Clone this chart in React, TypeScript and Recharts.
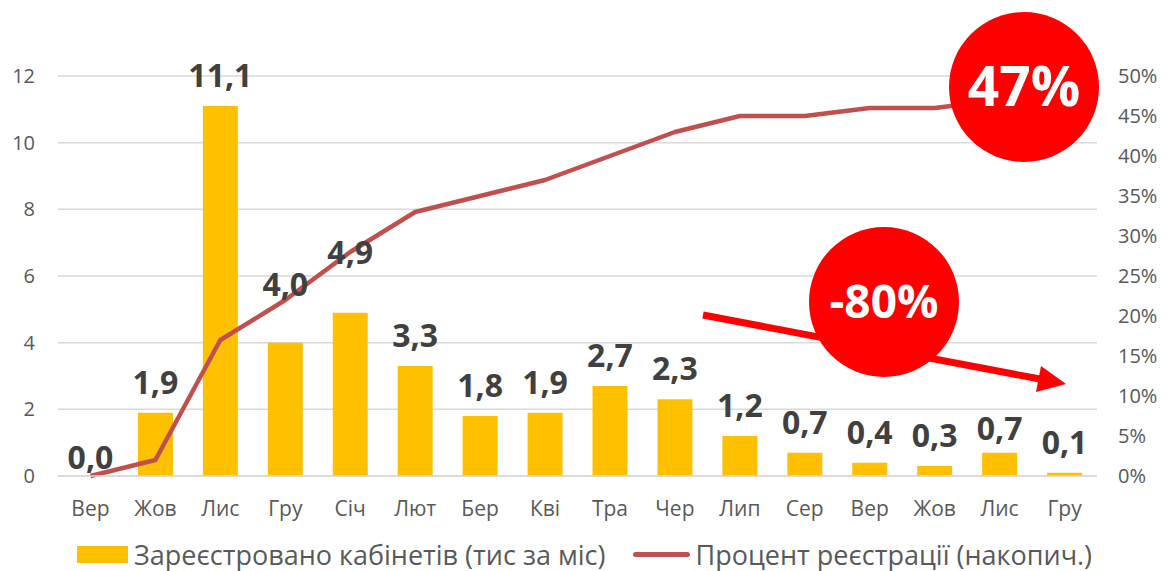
import React from 'react';
import { ComposedChart, Bar, Line, XAxis, YAxis, CartesianGrid, Legend, LabelList } from 'recharts';

const months = ['Вер', 'Жов', 'Лис', 'Гру', 'Січ', 'Лют', 'Бер', 'Кві', 'Тра', 'Чер', 'Лип', 'Сер', 'Вер', 'Жов', 'Лис', 'Гру'];
const cabinets = [0.0, 1.9, 11.1, 4.0, 4.9, 3.3, 1.8, 1.9, 2.7, 2.3, 1.2, 0.7, 0.4, 0.3, 0.7, 0.1];
const cumulativePct = [0, 2, 17, 22, 28, 33, 35, 37, 40, 43, 45, 45, 46, 46, 47, 47];
const leftTicks = [0, 2, 4, 6, 8, 10, 12];
const rightTicks = [0, 5, 10, 15, 20, 25, 30, 35, 40, 45, 50];

const FONT = '"Open Sans", "Noto Sans", sans-serif';
const BAR_NAME = 'Зареєстровано кабінетів (тис за міс)';
const LINE_NAME = 'Процент реєстрації (накопич.)';

// labels that were moved by hand in the original (keeps them clear of the line)
const labelLift: Record<number, number> = { 0: -12, 3: 28, 4: 30, 14: -6 };

const chartData = months.map((m, i) => ({
    month: m,
    cabinets: cabinets[i],
    pct: cumulativePct[i],
}));

const renderValueLabel = (props: any) => {
    const { x, y, value, index } = props;
    const lift = labelLift[index] || 0;
    return (
        <text
            x={x}
            y={y - 19 - lift}
            textAnchor="middle"
            fill="#404040"
            fontSize={32}
            fontWeight={700}
            fontFamily={FONT}
        >
            {Number(value).toFixed(1).replace('.', ',')}
        </text>
    );
};

const renderLegend = () => (
    <div style={{ display: 'flex', alignItems: 'center', fontFamily: FONT, fontSize: 27, color: '#595959', whiteSpace: 'nowrap' }}>
        <span style={{ display: 'inline-block', width: 51, height: 17, background: '#FFC000', marginRight: 6 }} />
        <span>{BAR_NAME}</span>
        <span style={{ display: 'inline-block', width: 57, height: 5, borderRadius: 3, background: '#C0504D', marginLeft: 28, marginRight: 5 }} />
        <span>{LINE_NAME}</span>
    </div>
);

const App: React.FC = () => {
    return (
        <div style={{ position: 'absolute', left: 0, top: 0, width: 1167, height: 571, background: '#fff' }}>
            <ComposedChart
                width={1167}
                height={571}
                data={chartData}
                margin={{ top: 76, right: 0, left: 0, bottom: 0 }}
                barSize={35}
            >
                <CartesianGrid yAxisId="left" vertical={false} stroke="#D9D9D9" strokeWidth={1.5} />
                <XAxis
                    dataKey="month"
                    height={95}
                    axisLine={{ stroke: '#D9D9D9', strokeWidth: 1.5 }}
                    tickLine={false}
                    tickMargin={19}
                    interval={0}
                    tick={{ fill: '#595959', fontSize: 21, fontFamily: FONT }}
                />
                <YAxis
                    yAxisId="left"
                    width={58}
                    domain={[0, 12]}
                    ticks={leftTicks}
                    axisLine={false}
                    tickLine={false}
                    tickMargin={17}
                    tick={{ fill: '#595959', fontSize: 20, fontFamily: FONT }}
                />
                <YAxis
                    yAxisId="right"
                    orientation="right"
                    width={70}
                    domain={[0, 50]}
                    ticks={rightTicks}
                    tickFormatter={(v: number) => `${v}%`}
                    axisLine={false}
                    tickLine={false}
                    tickMargin={15}
                    tick={{ fill: '#595959', fontSize: 20, fontFamily: FONT }}
                />
                <Bar yAxisId="left" dataKey="cabinets" name={BAR_NAME} fill="#FFC000" isAnimationActive={false} />
                <Line
                    yAxisId="right"
                    type="linear"
                    dataKey="pct"
                    name={LINE_NAME}
                    stroke="#C0504D"
                    strokeWidth={4.5}
                    strokeLinejoin="round"
                    dot={false}
                    activeDot={false}
                    isAnimationActive={false}
                />
                {/* invisible carrier so every bar value, including 0,0, gets its label */}
                <Line
                    yAxisId="left"
                    dataKey="cabinets"
                    stroke="none"
                    dot={false}
                    activeDot={false}
                    legendType="none"
                    isAnimationActive={false}
                >
                    <LabelList dataKey="cabinets" content={renderValueLabel} />
                </Line>
                <Legend
                    verticalAlign="middle"
                    align="center"
                    content={renderLegend}
                    wrapperStyle={{ position: 'absolute', top: 536, left: 77, width: 1090, height: 38 }}
                />
            </ComposedChart>
            <svg width={1167} height={571} style={{ position: 'absolute', left: 0, top: 0, pointerEvents: 'none' }}>
                <line x1={703} y1={315} x2={1040} y2={379} stroke="#FF0000" strokeWidth={7} />
                <polygon points="1066,384 1036,392 1041,366" fill="#FF0000" />
                <circle cx={884} cy={302} r={75} fill="#FF0000" />
                <text x={884} y={302} dy="0.35em" textAnchor="middle" fill="#fff" fontFamily={FONT} fontWeight={700} fontSize={46}>-80%</text>
                <circle cx={1024} cy={87} r={75} fill="#FF0000" />
                <text x={1024} y={87} dy="0.35em" textAnchor="middle" fill="#fff" fontFamily={FONT} fontWeight={700} fontSize={55}>47%</text>
            </svg>
        </div>
    );
};

export default App;
